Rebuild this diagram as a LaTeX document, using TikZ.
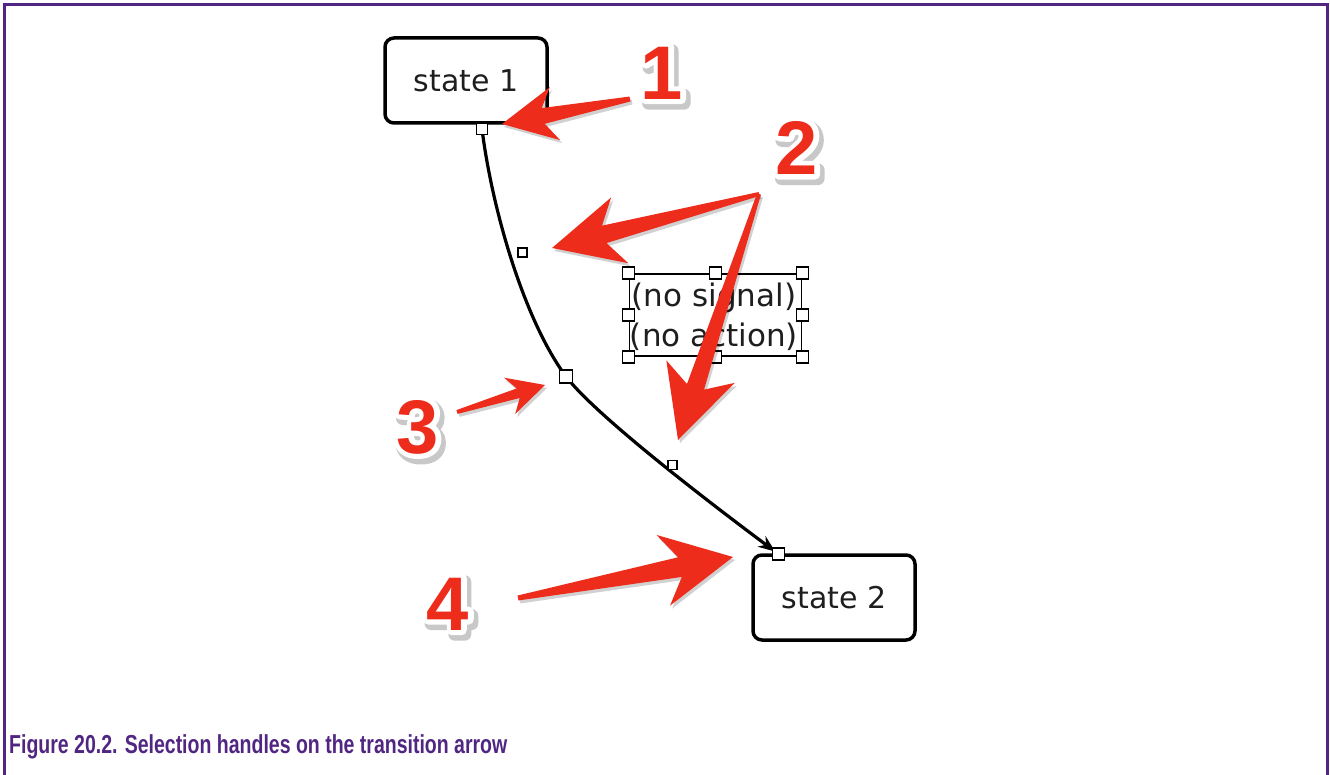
\documentclass[tikz,border=0pt]{standalone}
\usepackage{fontspec}
\setmainfont{DejaVu Sans}
\newfontfamily\numfont{Liberation Sans}
\newfontfamily\capfont{Liberation Sans}[FakeStretch=0.75]
\usetikzlibrary{calc,arrows.meta}
\definecolor{framec}{RGB}{80,38,130}
\definecolor{capc}{RGB}{80,38,130}
\definecolor{redc}{RGB}{238,44,28}
\definecolor{txtc}{RGB}{30,30,30}
\definecolor{shadc}{RGB}{200,200,200}
\tikzset{
  statebox/.style={draw=black, line width=3.5pt, rounded corners=9pt, minimum width=162pt,
    minimum height=85pt, fill=white, font=\fontsize{30}{36}\selectfont, text=txtc, inner sep=0pt},
  handle/.style={draw=black, fill=white, line width=1.5pt, rectangle, minimum size=#1, inner sep=0pt},
  handle/.default=11pt,
  lblbox/.style={draw=black, line width=1.8pt, minimum width=172pt, minimum height=82pt, inner sep=0pt},
  lbltext/.style={font=\fontsize{31}{40}\selectfont, align=center, text=txtc, inner sep=0pt},
  numstyle/.style={font=\numfont\bfseries\fontsize{76}{76}\selectfont, inner sep=0pt},
  conn/.style={draw=black, line width=3.2pt, -{Stealth[length=17pt,width=13pt]}},
}
\newcommand\calpoly[5]{($(#1)!#5pt!90:(#2)$) -- ($(#2n)!#4pt!90:(#2)$) -- ($(#2a)!#3pt!90:(#2)$) -- (#2) -- ($(#2a)!#3pt!-90:(#2)$) -- ($(#2n)!#4pt!-90:(#2)$) -- ($(#1)!#5pt!-90:(#2)$) -- cycle}
% #1 tail, #2 tip, #3 head length, #4 head half width, #5 tail half width, #6 neck half width, #7 neck distance
\newcommand\callout[7]{%
  \coordinate (#2n) at ($(#2)!#7pt!(#1)$);
  \coordinate (#2a) at ($(#2)!#3pt!(#1)$);
  \begin{scope}[transform canvas={shift={(2pt,-3pt)}}]
    \fill[black,opacity=0.18] \calpoly{#1}{#2}{#4}{#6}{#5};
  \end{scope}
  \fill[redc] \calpoly{#1}{#2}{#4}{#6}{#5};
}
% stroked (outlined) glyphs via PDF text render mode
\newcommand\outl[2]{\special{pdf:literal direct 1 Tr #1 w 1 j}#2\special{pdf:literal direct 0 Tr}}
\newcommand\bignum[2]{%
  \node[numstyle] (#1t) at (#1) {\rlap{\kern3pt\raisebox{-4pt}[0pt][0pt]{\color{shadc}\outl{13}{#2}}}\rlap{\color{white}\outl{10}{#2}}\color{redc}#2};
}
\begin{document}
\begin{tikzpicture}[x=1pt,y=-1pt]
\useasboundingbox (0,0) rectangle (1330,775);
\fill[white] (0,0) rectangle (1330,775);
% frame
\draw[framec, line width=3pt] (4.5,775) -- (4.5,4.5) -- (1327.5,4.5) -- (1327.5,775);

% states
\node[statebox] (s1) at (466,80.5) {state 1};
\node[statebox] (s2) at (834,597.5) {state 2};

% transition
\coordinate (c1) at (482,129);
\coordinate (c2) at (522.5,252.5);
\coordinate (c3) at (566,376.5);
\coordinate (c5) at (672.5,465);
\coordinate (c4) at (778.5,554);
\draw[conn, shorten >=4pt] (c1) .. controls (492,209) and (524,320) .. (c3)
   .. controls (596,416) and (714,506) .. (c4);
\node[handle] (h1) at (c1) {};
\node[handle=9pt] (h2) at (c2) {};
\node[handle=13pt] (h3) at (c3) {};
\node[handle=9pt] (h5) at (c5) {};
\node[handle=12pt] (h4) at (c4) {};

% label box
\node[lblbox] (lb) at (715.5,315) {};
\node[lbltext] (lt) at (714,317) {(no signal)\\(no action)};
\foreach \p/\q in {north west/a,north/b,north east/c,west/d,east/e,south west/f,south/g,south east/h}{
  \node[handle=12pt] (lh\q) at (lb.\p) {};
}

% red callout arrows
\coordinate (t1) at (630,99);   \coordinate (p1) at (502,124);
\coordinate (t2) at (759,194);  \coordinate (p2a) at (552,248); \coordinate (p2b) at (678,440);
\coordinate (t3) at (457,412);  \coordinate (p3) at (545,385);
\coordinate (t4) at (518,598);  \coordinate (p4) at (733,557);
\callout{t1}{p1}{54}{27}{2.5}{8}{42}
\callout{t2}{p2a}{70}{34}{2}{9}{54}
\callout{t2}{p2b}{72}{36}{2}{9}{56}
\callout{t3}{p3}{37}{19}{2}{5}{28}
\callout{t4}{p4}{71}{36}{2.5}{10}{54}

% numbers
\coordinate (n1) at (662,73);
\coordinate (n2) at (797,148);
\coordinate (n3) at (418,427);
\coordinate (n4) at (448,604);
\bignum{n1}{1}
\bignum{n2}{2}
\bignum{n3}{3}
\bignum{n4}{4}

% caption
\node[anchor=base west, inner sep=0pt, text=capc,
  font=\capfont\bfseries\fontsize{26}{30}\selectfont] (cap) at (9,753)
  {Figure 20.2. Selection handles on the transition arrow};
\end{tikzpicture}
\end{document}
